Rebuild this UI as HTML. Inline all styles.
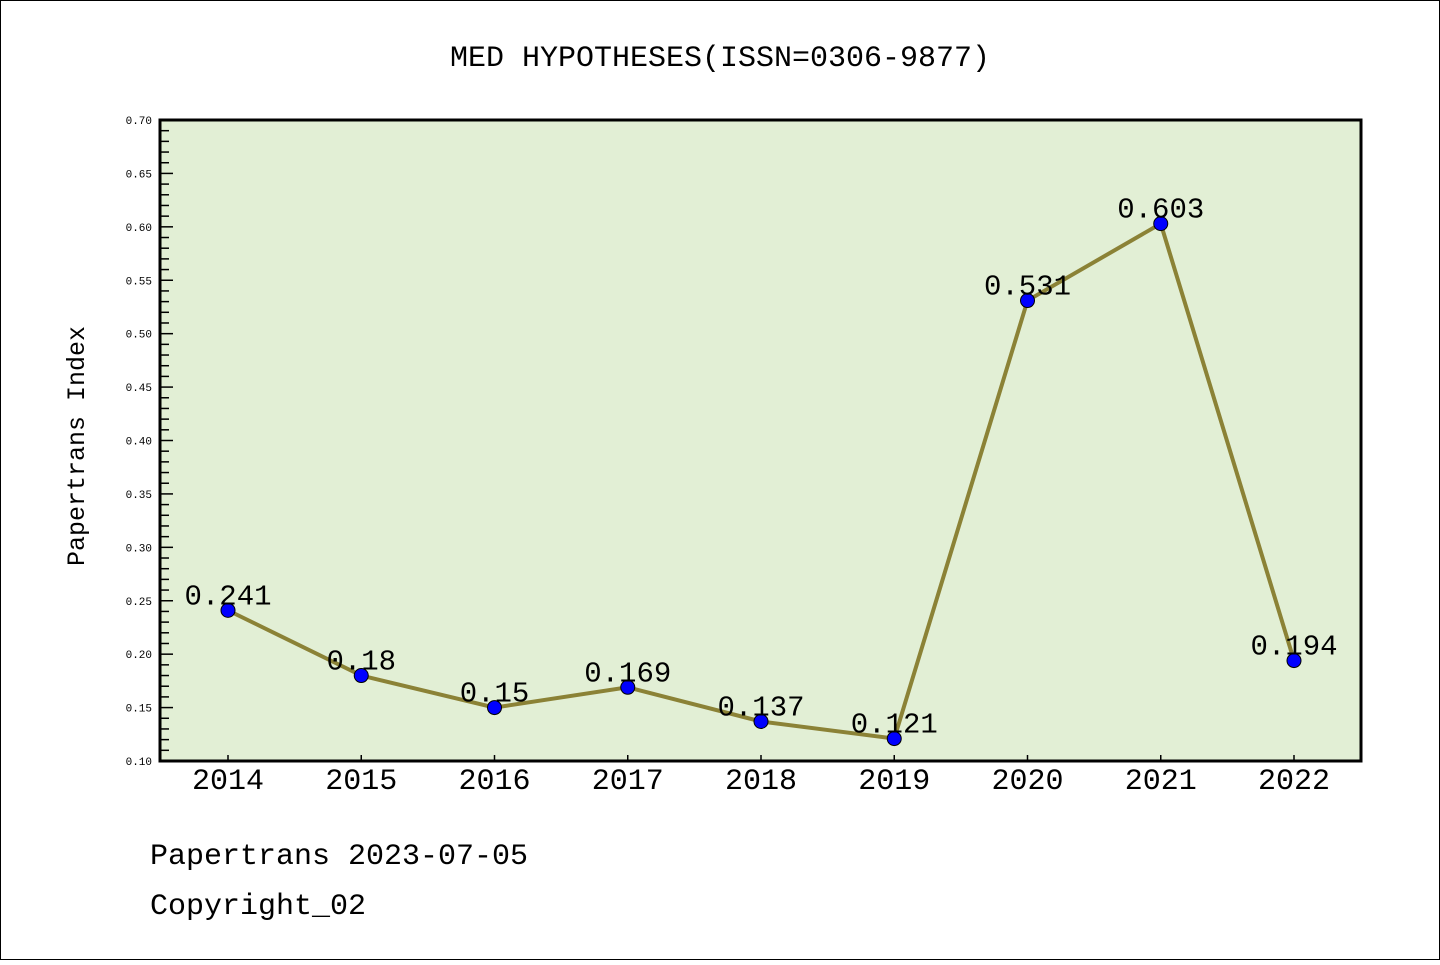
<!DOCTYPE html>
<html><head><meta charset="utf-8"><style>
html,body{margin:0;padding:0;background:#fff;}
svg text{font-family:"Liberation Mono","DejaVu Sans Mono",monospace;}
</style></head><body>
<svg width="1440" height="960" xmlns="http://www.w3.org/2000/svg">
<rect x="0.5" y="0.5" width="1439" height="959" fill="#fff" stroke="#000"/>
<text x="720" y="66" text-anchor="middle" font-size="30">MED HYPOTHESES(ISSN=0306-9877)</text>
<rect x="160" y="120" width="1201" height="641" fill="#e2efd5"/>
<g id="axes"></g>
<g id="marks"></g>
<rect x="160" y="120" width="1201" height="641" fill="none" stroke="#000" stroke-width="3"/>
<text transform="translate(84,446) rotate(-90)" text-anchor="middle" font-size="25">Papertrans Index</text>
<text x="150" y="864" font-size="30">Papertrans 2023-07-05</text>
<text x="150" y="914" font-size="30">Copyright_02</text>
</svg>
<script>
const categories=["2014","2015","2016","2017","2018","2019","2020","2021","2022"];
const values=[0.241,0.18,0.15,0.169,0.137,0.121,0.531,0.603,0.194];
const valueLabels=["0.241","0.18","0.15","0.169","0.137","0.121","0.531","0.603","0.194"];
const yTicks=["0.10","0.15","0.20","0.25","0.30","0.35","0.40","0.45","0.50","0.55","0.60","0.65","0.70"];
const NS="http://www.w3.org/2000/svg";
const yMin=0.10,yMax=0.70,plotTop=120,plotBot=761;
function sy(v){return plotBot-(v-yMin)/(yMax-yMin)*(plotBot-plotTop);}
function sx(i){return 228+i*133.25;}
function mk(t,a,p){const e=document.createElementNS(NS,t);for(const k in a)e.setAttribute(k,a[k]);p.appendChild(e);return e;}
const ax=document.getElementById('axes'),mg=document.getElementById('marks');
for(let k=0;k<=60;k++){const v=yMin+k*0.01;const major=k%5===0;
 const l=mk('line',{x1:160,x2:160+(major?13:9),y1:sy(v),y2:sy(v),stroke:'#000','stroke-width':1.5},ax);
 
 }
yTicks.forEach(s=>{const t=mk('text',{x:152,y:sy(parseFloat(s))+4,'text-anchor':'end','font-size':11,'font-family':'DejaVu Sans, sans-serif'},ax);t.textContent=s;
 
 });
categories.forEach((c,i)=>{const l=mk('line',{x1:sx(i),x2:sx(i),y1:plotBot,y2:plotBot-6,stroke:'#000','stroke-width':1.5},ax);
 
 
 const t=mk('text',{x:sx(i),y:789,'text-anchor':'middle','font-size':30,'font-family':'Liberation Sans, sans-serif'},ax);t.textContent=c;
 
 });
const pl=mk('polyline',{points:values.map((v,i)=>sx(i)+','+sy(v)).join(' '),fill:'none',stroke:'#8b8236','stroke-width':4},mg);


values.forEach((v,i)=>{const c=mk('circle',{cx:sx(i),cy:sy(v),r:7,fill:'#0000ff',stroke:'#000','stroke-width':1},mg);
 
 
 const t=mk('text',{x:sx(i),y:sy(v)-6,'text-anchor':'middle','font-size':29},mg);t.textContent=valueLabels[i];
 
 });
</script>
</body></html>
